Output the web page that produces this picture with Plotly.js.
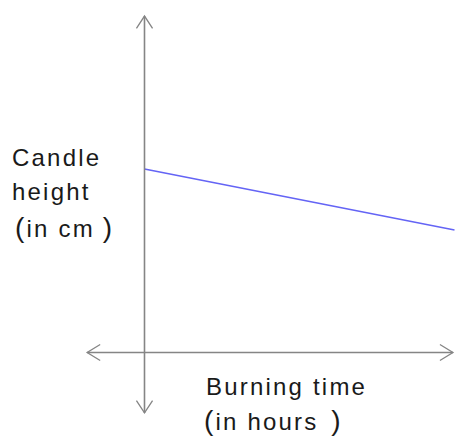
<!DOCTYPE html>
<html>
<head>
<meta charset="utf-8">
<script src="https://cdn.plot.ly/plotly-3.0.1.min.js"></script>
<style>
  html, body { margin: 0; padding: 0; background: #fff; }
  #chart { width: 455px; height: 436px; }
  .annotation-text { letter-spacing: 2.2px; }
</style>
</head>
<body>
<div id="chart"></div>
<script>
// Data: candle height falls as burning time increases
const burnHours = [0, 10];
const candleHeight = [12, 8];

// Axis labels
const yLabelLines = ["Candle", "height", "(in cm)"];
const xLabelLines = ["Burning time", "(in hours)"];

// Axis extents (data units)
const xAxisMin = -1.85, xAxisMax = 9.95;
const yAxisMin = -3.95, yAxisMax = 21.99;

const axisColor = "#858585";
const ax = 0.42, ay = 0.52;   // horizontal arrowhead arms
const vx = 0.26, vy = 0.80;   // vertical arrowhead arms

const shapes = [
  {type: "line", xref: "x", yref: "y", x0: xAxisMin, x1: xAxisMax, y0: 0, y1: 0,
   line: {color: axisColor, width: 1.6}},
  {type: "line", xref: "x", yref: "y", x0: 0, x1: 0, y0: yAxisMin, y1: yAxisMax,
   line: {color: axisColor, width: 1.6}},
  {type: "path", xref: "x", yref: "y",
   path: `M ${xAxisMin + ax},${ay} L ${xAxisMin},0 L ${xAxisMin + ax},${-ay}`,
   line: {color: axisColor, width: 1.3}},
  {type: "path", xref: "x", yref: "y",
   path: `M ${xAxisMax - ax},${ay} L ${xAxisMax},0 L ${xAxisMax - ax},${-ay}`,
   line: {color: axisColor, width: 1.3}},
  {type: "path", xref: "x", yref: "y",
   path: `M ${-vx},${yAxisMax - vy} L 0,${yAxisMax} L ${vx},${yAxisMax - vy}`,
   line: {color: axisColor, width: 1.3}},
  {type: "path", xref: "x", yref: "y",
   path: `M ${-vx},${yAxisMin + vy} L 0,${yAxisMin} L ${vx},${yAxisMin + vy}`,
   line: {color: axisColor, width: 1.3}}
];

// Style the parenthesised lines like the reference: tall, widely spaced brackets
function paren(line, gapAfterLast) {
  const inner = line.slice(1, -1);
  const head = inner.slice(0, -1), last = inner.slice(-1);
  return '<span style="font-size:28px">(</span>' + head +
         '<span style="letter-spacing:' + gapAfterLast + 'px">' + last + '</span>' +
         '<span style="font-size:28px">)</span>';
}

const font = {family: "Liberation Sans, Arial, sans-serif", size: 24, color: "#1a1a1a"};
const W = 455, H = 436;
function ann(text, px, py) {
  return {text: text, xref: "paper", yref: "paper", x: px / W, y: 1 - py / H,
          xanchor: "left", yanchor: "middle", showarrow: false, font: font};
}
const annotations = [
  ann(yLabelLines[0], 10, 157),
  ann(yLabelLines[1], 10, 191),
  ann(paren(yLabelLines[2], 10), 13, 227),
  ann(xLabelLines[0], 204, 386),
  ann(paren(xLabelLines[1], 15), 202, 420)
];

const trace = {
  x: burnHours, y: candleHeight, type: "scatter", mode: "lines",
  line: {color: "#6464f5", width: 1.5}, hoverinfo: "skip"
};

const layout = {
  width: W, height: H,
  margin: {l: 0, r: 0, t: 0, b: 0},
  paper_bgcolor: "#ffffff", plot_bgcolor: "#ffffff",
  showlegend: false,
  xaxis: {range: [-144.5 / 31, (455 - 144.5) / 31], visible: false, fixedrange: true},
  yaxis: {range: [(352.5 - 436) / 15.3, 352.5 / 15.3], visible: false, fixedrange: true},
  shapes: shapes,
  annotations: annotations
};

Plotly.newPlot("chart", [trace], layout, {staticPlot: true, displayModeBar: false});
</script>
</body>
</html>
